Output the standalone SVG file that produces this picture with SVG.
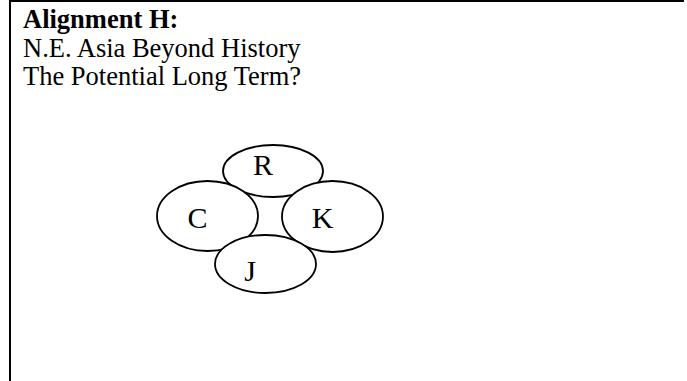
<svg xmlns="http://www.w3.org/2000/svg" width="687" height="381" viewBox="0 0 687 381">
<style>
.t{font-family:"Liberation Serif","Times New Roman",serif;font-size:26.5px;fill:#000}
.b{font-weight:bold}
.n{fill:#fff;stroke:#000;stroke-width:1.8}
.l{font-family:"Liberation Serif","Times New Roman",serif;font-size:30px;fill:#000;text-anchor:middle}
</style>
<rect x="0" y="0" width="687" height="381" fill="#fff"/>
<g id="frame" stroke="#000" fill="none">
<line x1="10" y1="1" x2="684" y2="1" stroke-width="2"/>
<line x1="10" y1="0" x2="10" y2="381" stroke-width="2"/>
</g>
<g id="title">
<text class="t b" x="23" y="28">Alignment H:</text>
<text class="t" x="23" y="57">N.E. Asia Beyond History</text>
<text class="t" x="23" y="85">The Potential Long Term?</text>
</g>
<g id="connectors"></g>
<g id="node-R"><ellipse class="n" cx="273" cy="171" rx="50" ry="26"/><text class="l" x="263" y="175">R</text></g>
<g id="node-C"><ellipse class="n" cx="207.5" cy="216" rx="50.5" ry="35"/><text class="l" x="197.5" y="228">C</text></g>
<g id="node-K"><ellipse class="n" cx="332.5" cy="216.5" rx="50.5" ry="35.5"/><text class="l" x="322.5" y="228">K</text></g>
<g id="node-J"><ellipse class="n" cx="265.5" cy="264" rx="50.5" ry="29"/><text class="l" x="250" y="281">J</text></g>
</svg>
